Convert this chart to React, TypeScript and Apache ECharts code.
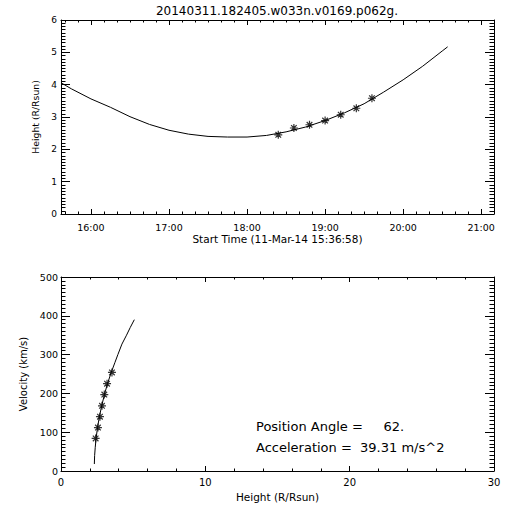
import React, { useEffect, useRef } from "react";
import * as echarts from "echarts";

// ---- Data ----
const titleText = "20140311.182405.w033n.v0169.p062g.";
const startTimeLabel = "Start Time (11-Mar-14 15:36:58)";

// Height-time fit curve (decimal hours, R/Rsun)
const curveTimes = [15.616, 15.75, 16.0, 16.25, 16.5, 16.75, 17.0, 17.25, 17.5, 17.75, 18.0, 18.25, 18.5, 18.75, 19.0, 19.25, 19.5, 19.75, 20.0, 20.25, 20.5, 20.57];
const curveHeights = [4.06, 3.87, 3.56, 3.3, 3.01, 2.77, 2.59, 2.47, 2.4, 2.38, 2.38, 2.43, 2.54, 2.69, 2.89, 3.13, 3.41, 3.77, 4.15, 4.57, 5.04, 5.17];

// Measured heights (asterisks)
const starTimes = [18.4, 18.6, 18.8, 19.0, 19.2, 19.4, 19.6];
const starHeights = [2.45, 2.66, 2.76, 2.89, 3.07, 3.27, 3.58];

// Velocity vs height curve
const velCurveHeights = [2.31, 2.33, 2.37, 2.43, 2.53, 2.66, 2.82, 3.01, 3.22, 3.48, 3.74, 3.94, 4.22, 4.54, 4.8, 5.08];
const velCurveValues = [18, 40, 60, 84, 112, 140, 168, 197, 225, 254, 280, 300, 327, 350, 370, 390];

// Velocity asterisks
const velStarHeights = [2.4, 2.56, 2.7, 2.84, 3.0, 3.19, 3.53];
const velStarValues = [84, 112, 140, 168, 197, 225, 254];

const annotationLines = ["Position Angle =     62.", "Acceleration =  39.31 m/s^2"];

// Axis ranges
const timeRange = [15.6161, 21.164];
const heightRange = [0, 6];
const xHeightRange = [0, 30];
const velRange = [0, 500];

const FONT = "DejaVu Sans";
const STAR = "path://M0,5L10,5M5,0L5,10M1.5,1.5L8.5,8.5M1.5,8.5L8.5,1.5";

const hourFmt = (v: number) => {
  if (Math.abs(v - Math.round(v)) > 1e-6) return "";
  const h = Math.round(v);
  return `${h}:00`;
};

const axisBase = (len: number, minorLen: number, minorSplit: number) => ({
  axisLine: { show: true, onZero: false, lineStyle: { color: "#000", width: 1 } },
  axisTick: { show: true, inside: true, length: len, lineStyle: { color: "#000", width: 1 } },
  minorTick: { show: true, splitNumber: minorSplit, length: minorLen, lineStyle: { color: "#000", width: 1 } },
  splitLine: { show: false },
  minorSplitLine: { show: false },
});

export default function App() {
  const ref = useRef<HTMLDivElement>(null);
  useEffect(() => {
    if (!ref.current) return;
    const chart = echarts.init(ref.current, null, { renderer: "svg" });
    const grids = [
      { left: 61, top: 20, width: 433, height: 194 },
      { left: 61, top: 277, width: 433, height: 194 },
    ];
    const labelStyle = (size: number, margin: number) => ({
      color: "#000",
      fontFamily: FONT,
      fontSize: size,
      margin,
    });
    const option: any = {
      animation: false,
      backgroundColor: "#fff",
      grid: grids,
      xAxis: [
        {
          type: "value", gridIndex: 0, position: "bottom",
          min: timeRange[0], max: timeRange[1], splitNumber: 5,
          ...axisBase(5, 2.5, 6),
          axisLabel: { ...labelStyle(9.5, 8), formatter: hourFmt },
          name: startTimeLabel, nameLocation: "middle", nameGap: 19,
          nameTextStyle: { color: "#000", fontFamily: FONT, fontSize: 10.5 },
        },
        {
          type: "value", gridIndex: 0, position: "top",
          min: timeRange[0], max: timeRange[1], splitNumber: 5,
          ...axisBase(5, 2.5, 6),
          axisLabel: { show: false },
        },
        {
          type: "value", gridIndex: 1, position: "bottom",
          min: xHeightRange[0], max: xHeightRange[1], interval: 10,
          ...axisBase(5, 2.5, 5),
          axisLabel: labelStyle(10, 6),
          name: "Height (R/Rsun)", nameLocation: "middle", nameGap: 20,
          nameTextStyle: { color: "#000", fontFamily: FONT, fontSize: 10.5 },
        },
        {
          type: "value", gridIndex: 1, position: "top",
          min: xHeightRange[0], max: xHeightRange[1], interval: 10,
          ...axisBase(5, 2.5, 5),
          axisLabel: { show: false },
        },
      ],
      yAxis: [
        {
          type: "value", gridIndex: 0, position: "left",
          min: heightRange[0], max: heightRange[1], interval: 1,
          ...axisBase(9, 4.5, 10),
          axisLabel: labelStyle(9, 4),
          name: "Height (R/Rsun)", nameLocation: "middle", nameGap: 15, nameRotate: 90,
          nameTextStyle: { color: "#000", fontFamily: FONT, fontSize: 9.3 },
        },
        {
          type: "value", gridIndex: 0, position: "right",
          min: heightRange[0], max: heightRange[1], interval: 1,
          ...axisBase(9, 4.5, 10),
          axisLabel: { show: false },
        },
        {
          type: "value", gridIndex: 1, position: "left",
          min: velRange[0], max: velRange[1], interval: 100,
          ...axisBase(9, 4.5, 10),
          axisLabel: labelStyle(9.5, 3),
          name: "Velocity (km/s)", nameLocation: "middle", nameGap: 27, nameRotate: 90,
          nameTextStyle: { color: "#000", fontFamily: FONT, fontSize: 10 },
        },
        {
          type: "value", gridIndex: 1, position: "right",
          min: velRange[0], max: velRange[1], interval: 100,
          ...axisBase(9, 4.5, 10),
          axisLabel: { show: false },
        },
      ],
      series: [
        {
          type: "line", xAxisIndex: 0, yAxisIndex: 0, showSymbol: false,
          lineStyle: { color: "#000", width: 1 },
          data: curveTimes.map((t, i) => [t, curveHeights[i]]),
        },
        {
          type: "scatter", xAxisIndex: 0, yAxisIndex: 0, symbol: STAR, symbolSize: 8,
          itemStyle: { color: "#000", borderColor: "#000", borderWidth: 1.2 },
          data: starTimes.map((t, i) => [t, starHeights[i]]),
        },
        {
          type: "line", xAxisIndex: 2, yAxisIndex: 2, showSymbol: false,
          lineStyle: { color: "#000", width: 1 },
          data: velCurveHeights.map((h, i) => [h, velCurveValues[i]]),
        },
        {
          type: "scatter", xAxisIndex: 2, yAxisIndex: 2, symbol: STAR, symbolSize: 8,
          itemStyle: { color: "#000", borderColor: "#000", borderWidth: 1.2 },
          data: velStarHeights.map((h, i) => [h, velStarValues[i]]),
        },
      ],
      graphic: [
        {
          type: "text", x: 277, y: 10.5,
          style: { text: titleText, fill: "#000", font: `12px "${FONT}"`, textAlign: "center", textVerticalAlign: "middle" },
        },
        {
          type: "text", x: 256, y: 426,
          style: { text: annotationLines[0], fill: "#000", font: `13px "${FONT}"`, textAlign: "left", textVerticalAlign: "middle" },
        },
        {
          type: "text", x: 256, y: 447.5,
          style: { text: annotationLines[1], fill: "#000", font: `13px "${FONT}"`, textAlign: "left", textVerticalAlign: "middle" },
        },
      ],
    };
    chart.setOption(option);
    return () => chart.dispose();
  }, []);
  return (
    <div
      ref={ref}
      style={{ position: "fixed", left: 0, top: 0, width: 512, height: 512, background: "#fff" }}
    />
  );
}
